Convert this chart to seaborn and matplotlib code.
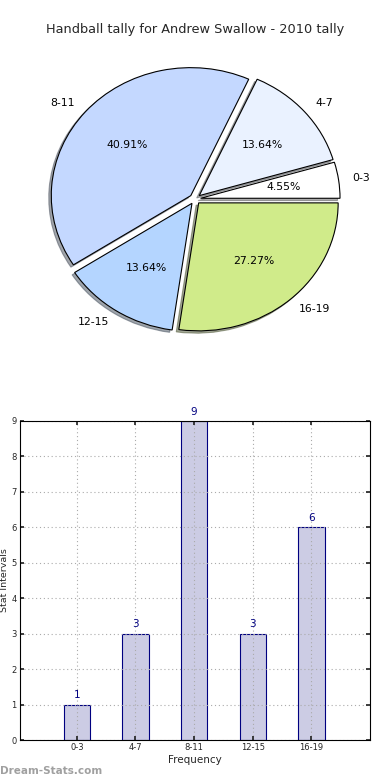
import matplotlib
matplotlib.use("Agg")
import matplotlib.pyplot as plt
import seaborn as sns
import pandas as pd

categories = ["0-3", "4-7", "8-11", "12-15", "16-19"]
values = [1, 3, 9, 3, 6]
pie_colors = ["#ffffff", "#eaf2ff", "#c4d8ff", "#b4d5ff", "#d0eb8a"]
title = "Handball tally for Andrew Swallow - 2010 tally"

sns.set_theme(style="white")
plt.rcParams['font.family'] = ['DejaVu Sans']

fig = plt.figure(figsize=(3.9, 7.8), dpi=100)
W, H = 390, 780

# ---- Pie (elliptical, as in the reference) ----
rx, ry = 139.5, 128
cx, cy = 195, 199
ax1 = fig.add_axes([(cx - 1.2 * rx) / W, (H - cy - 1.2 * ry) / H,
                    2.4 * rx / W, 2.4 * ry / H])
wedges, texts, autotexts = ax1.pie(
    values, labels=categories, colors=pie_colors, autopct="%.2f%%",
    explode=[0.04] * len(values), startangle=0, counterclock=True,
    shadow={"ox": -0.013, "oy": -0.013, "shade": 0.65},
    pctdistance=0.6, labeldistance=1.1,
    wedgeprops=dict(edgecolor="black", linewidth=0.8),
    textprops=dict(fontsize=7.8, color="black"))
ax1.set_xlim(-1.2, 1.2)
ax1.set_ylim(-1.2, 1.2)
ax1.set_aspect("auto")
ax1.axis("off")
fig.text(0.5, (H - 30) / H, title, ha="center", va="center", fontsize=9.3)

# ---- Bar ----
ax2 = fig.add_axes([20 / W, 40 / H, 350 / W, 319 / H])
df = pd.DataFrame({"Frequency": categories, "Count": values})
sns.barplot(data=df, x="Frequency", y="Count", ax=ax2, width=0.45,
            color="#ccccE4", edgecolor="#000080", linewidth=0.8, saturation=1)
ax2.set_xlim(-0.97, 5.0)
ax2.set_ylim(0, 9)
ax2.set_yticks(range(0, 10))
ax2.set_axisbelow(False)
ax2.grid(True, linestyle=(0, (1, 2.5)), color="#aaaaaa", linewidth=0.8, zorder=3)
for p, v in zip(ax2.patches, values):
    ax2.text(p.get_x() + p.get_width() / 2, v + 0.12, str(v), ha="center",
             va="bottom", fontsize=7.5, color="#000080")
ax2.tick_params(axis="both", which="both", direction="in", length=3,
                labelsize=6, top=True, right=True, bottom=True, left=True, pad=2.5)
for s in ax2.spines.values():
    s.set_color("black")
    s.set_linewidth(0.8)
    s.set_zorder(4)
ax2.set_xlabel("Frequency", fontsize=7.5, labelpad=2)
ax2.set_ylabel("Stat Intervals", fontsize=6.8, labelpad=3)
ax2.yaxis.set_label_coords(-0.0325, 0.5)

fig.text(0 / W, (H - 771) / H, "Dream-Stats.com", ha="left", va="center",
         fontsize=7.5, color="#a0a0a0", fontweight="bold")

fig.savefig("out.png", dpi=100)
